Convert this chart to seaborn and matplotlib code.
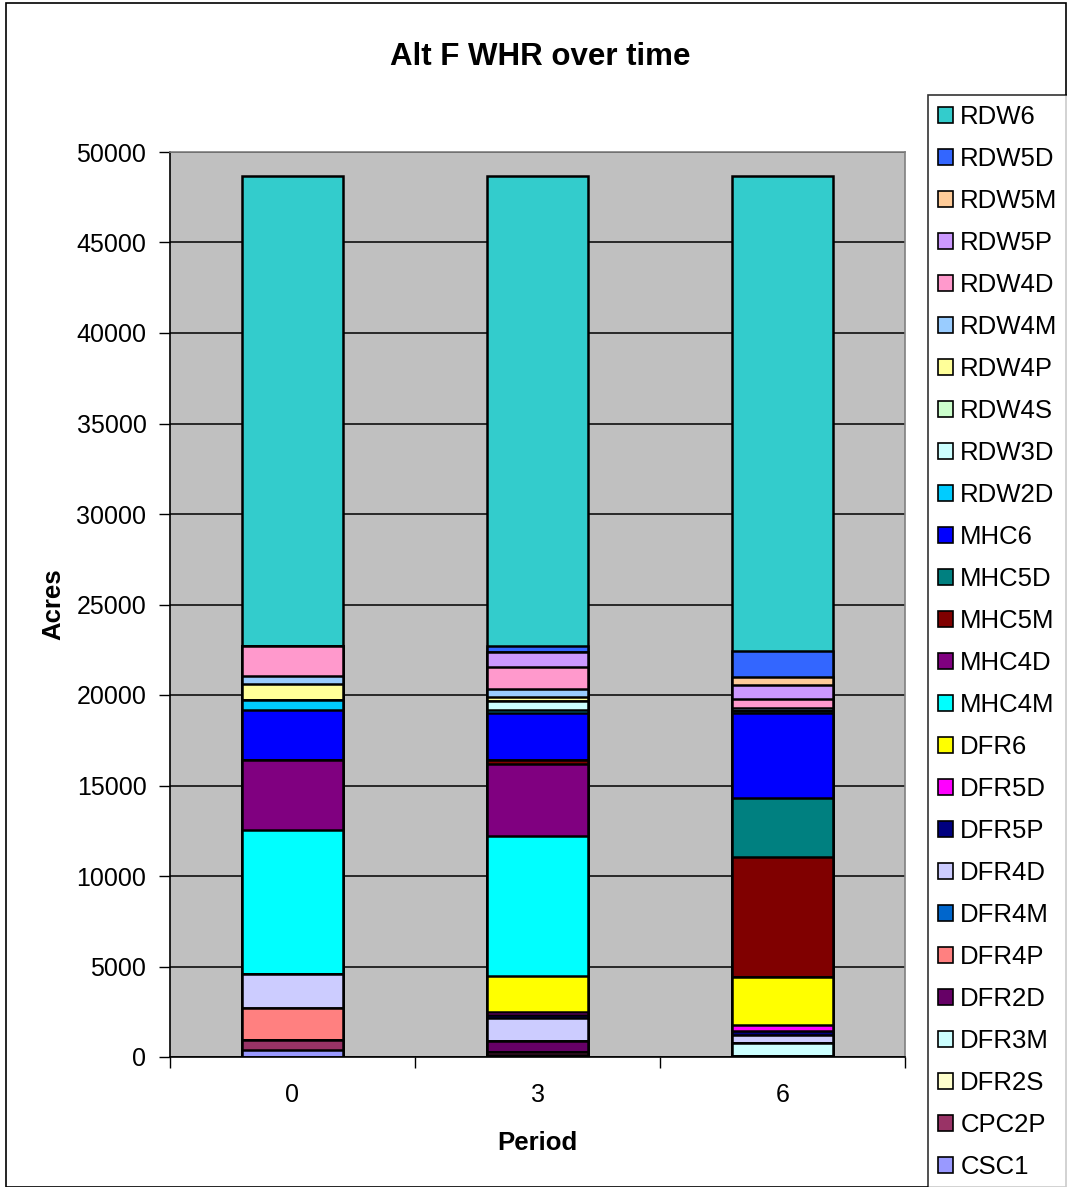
import matplotlib
matplotlib.use("Agg")
import matplotlib.pyplot as plt
from matplotlib.patches import Patch, Rectangle
import seaborn as sns
import numpy as np

# Periods on the x axis
periods = ["0", "3", "6"]

# Habitat classes, listed from the bottom of each stack to the top
classes = ["CSC1", "CPC2P", "DFR2S", "DFR3M", "DFR2D", "DFR4P", "DFR4M", "DFR4D",
           "DFR5P", "DFR5D", "DFR6", "MHC4M", "MHC4D", "MHC5M", "MHC5D", "MHC6",
           "RDW2D", "RDW3D", "RDW4S", "RDW4P", "RDW4M", "RDW4D", "RDW5P", "RDW5M",
           "RDW5D", "RDW6"]

# Acres per class for periods 0, 3, 6
CSC1 = [370, 100, 50]
CPC2P = [550, 200, 0]
DFR2S = [0, 0, 0]
DFR3M = [0, 0, 700]
DFR2D = [0, 580, 0]
DFR4P = [1800, 0, 0]
DFR4M = [0, 0, 0]
DFR4D = [1890, 1270, 470]
DFR5P = [0, 170, 190]
DFR5D = [0, 170, 360]
DFR6 = [0, 1960, 2670]
MHC4M = [7930, 7760, 0]
MHC4D = [3890, 3980, 0]
MHC5M = [0, 220, 6610]
MHC5D = [0, 0, 3260]
MHC6 = [2740, 2610, 4710]
RDW2D = [550, 150, 120]
RDW3D = [0, 500, 0]
RDW4S = [0, 0, 0]
RDW4P = [890, 240, 0]
RDW4M = [440, 400, 130]
RDW4D = [1670, 1260, 510]
RDW5P = [0, 790, 770]
RDW5M = [0, 0, 460]
RDW5D = [0, 350, 1440]
RDW6 = [25950, 25960, 26220]

values = [CSC1, CPC2P, DFR2S, DFR3M, DFR2D, DFR4P, DFR4M, DFR4D, DFR5P, DFR5D,
          DFR6, MHC4M, MHC4D, MHC5M, MHC5D, MHC6, RDW2D, RDW3D, RDW4S, RDW4P,
          RDW4M, RDW4D, RDW5P, RDW5M, RDW5D, RDW6]

colors = {
    "RDW6": "#33CCCC", "RDW5D": "#3366FF", "RDW5M": "#FFCC99", "RDW5P": "#CC99FF",
    "RDW4D": "#FF99CC", "RDW4M": "#99CCFF", "RDW4P": "#FFFF99", "RDW4S": "#CCFFCC",
    "RDW3D": "#CCFFFF", "RDW2D": "#00CCFF", "MHC6": "#0000FF", "MHC5D": "#008080",
    "MHC5M": "#800000", "MHC4D": "#800080", "MHC4M": "#00FFFF", "DFR6": "#FFFF00",
    "DFR5D": "#FF00FF", "DFR5P": "#000080", "DFR4D": "#CCCCFF", "DFR4M": "#0066CC",
    "DFR4P": "#FF8080", "DFR2D": "#660066", "DFR3M": "#CCFFFF", "DFR2S": "#FFFFCC",
    "CPC2P": "#993366", "CSC1": "#9999FF",
}

sns.set_theme(style="white")
plt.rcParams["font.family"] = ["Liberation Sans", "DejaVu Sans"]
plt.rcParams.update({"text.color": "black", "axes.labelcolor": "black",
                     "xtick.color": "black", "ytick.color": "black"})

W, H = 1067, 1187
fig = plt.figure(figsize=(W / 100, H / 100), dpi=100)
fig.patch.set_facecolor("white")
ax = fig.add_axes([170 / W, 130 / H, 735 / W, 905 / H])
ax.set_facecolor("#C0C0C0")

# Stacked bars: draw cumulative totals from the top class down so each
# lower class covers the one above it
cum = np.cumsum(np.array(values, dtype=float), axis=0)
for i in range(len(classes) - 1, -1, -1):
    sns.barplot(x=periods, y=cum[i], color=colors[classes[i]], saturation=1,
                edgecolor="black", linewidth=1.8, width=0.41, errorbar=None, ax=ax)

ax.set_ylim(0, 50000)
ax.set_xlim(-0.5, 2.5)
ax.set_yticks(np.arange(0, 50001, 5000))
ax.set_yticklabels([str(v) for v in range(0, 50001, 5000)], fontsize=18)
ax.set_xticks([-0.5, 0.5, 1.5, 2.5])
ax.set_xticklabels([])
ax.set_xticks([0, 1, 2], minor=True)
ax.set_xticklabels(periods, minor=True, fontsize=18)
ax.tick_params(axis="x", which="major", direction="out", length=8, width=1, color="black", bottom=True)
ax.tick_params(axis="x", which="minor", length=0, pad=19)
ax.tick_params(axis="y", direction="out", length=8, width=1, color="black", left=True, pad=9)

ax.set_axisbelow(True)
ax.yaxis.grid(True, color="black", linewidth=1.1)
ax.xaxis.grid(False)
for side in ["top", "right"]:
    ax.spines[side].set_color("#808080")
    ax.spines[side].set_linewidth(1.2)
for side in ["left", "bottom"]:
    ax.spines[side].set_color("black")
    ax.spines[side].set_linewidth(1.2)

ax.set_xlabel("Period", fontsize=18.5, fontweight="bold", labelpad=17)
ax.set_ylabel("Acres", fontsize=18.5, fontweight="bold", labelpad=8)
fig.text(540 / W, 1 - 57 / H, "Alt F WHR over time", fontsize=22.5, fontweight="bold",
         ha="center", va="center")

# Legend, top class first
handles = [Patch(facecolor=colors[c], edgecolor="black", linewidth=1.2) for c in classes[::-1]]
leg = fig.legend(handles, classes[::-1], loc="upper left",
                 bbox_to_anchor=(928 / W, 1 - 95 / H), bbox_transform=fig.transFigure,
                 borderaxespad=0, fontsize=18.5, frameon=True, fancybox=False,
                 handlelength=0.58, handleheight=0.58, handletextpad=0.28,
                 labelspacing=0.7, borderpad=0.4)
leg.get_frame().set_edgecolor("black")
leg.get_frame().set_linewidth(1.2)

# Chart border
fig.add_artist(Rectangle((6 / W, 0), 1 - 7 / W, 1 - 3 / H, transform=fig.transFigure,
                         fill=False, edgecolor="black", linewidth=1.2))

fig.savefig("out.png", dpi=100)
